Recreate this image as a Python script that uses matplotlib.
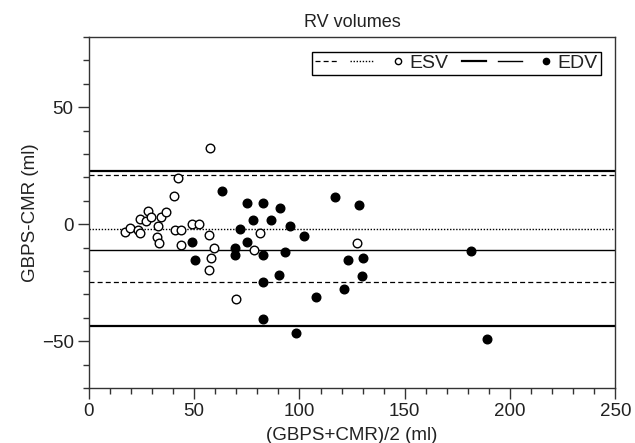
import numpy as np
import matplotlib.pyplot as plt
from matplotlib.lines import Line2D
from matplotlib.legend_handler import HandlerTuple

plt.rcParams['font.family'] = ['Liberation Sans', 'DejaVu Sans']

# ESV: mean (x) vs difference (y)
esv_mean = [17.1, 19.5, 23.2, 24.3, 24.3, 27.0, 28.1, 29.4, 34.3, 36.5, 32.9, 32.2,
            33.2, 40.2, 42.1, 40.8, 43.8, 43.7, 49.2, 52.4, 57.1, 59.5, 58.1, 56.8,
            57.6, 70.0, 81.1, 78.2, 127.1]
esv_diff = [-3.4, -1.8, -2.6, -3.6, 2.4, 1.3, 5.7, 3.3, 3.3, 5.3, -0.6, -5.4,
            -8.1, 12.0, 19.7, -2.3, -2.6, -9.0, 0.3, 0.0, -4.6, -10.0, -14.5, -19.7,
            32.5, -31.9, -3.7, -11.1, -8.1]

# EDV
edv_mean = [63.0, 48.9, 50.5, 71.7, 69.5, 69.5, 74.9, 75.2, 82.7, 77.9, 86.3, 90.6,
            82.7, 82.7, 90.5, 82.7, 93.3, 95.5, 102.0, 107.8, 98.4, 117.0, 128.1,
            122.9, 130.3, 129.7, 121.1, 181.4, 189.0]
edv_diff = [14.2, -7.8, -15.1, -2.0, -10.1, -13.1, -7.7, 9.0, 9.0, 1.7, 1.7, 7.0,
            -13.0, -24.8, -21.9, -40.5, -12.0, -0.9, -5.1, -31.2, -46.6, 11.5, 8.4,
            -15.1, -14.4, -22.2, -27.6, -11.3, -49.0]

# bias and limits of agreement
esv_bias, esv_lo, esv_hi = -2.1, -24.8, 20.9
edv_bias, edv_lo, edv_hi = -11.1, -43.6, 22.6

txt = '#222222'
fig = plt.figure(figsize=(6.35, 4.43), dpi=100)
ax = fig.add_axes([0.140, 0.124, 0.829, 0.7925])

# reference lines
ax.axhline(esv_bias, color='black', lw=1.0, ls=(0, (1, 1.2)))
ax.axhline(esv_hi, color='black', lw=0.9, ls=(0, (4, 2.5)))
ax.axhline(esv_lo, color='black', lw=0.9, ls=(0, (4, 2.5)))
ax.axhline(edv_bias, color='black', lw=1.0, ls='-')
ax.axhline(edv_hi, color='black', lw=1.6, ls='-')
ax.axhline(edv_lo, color='black', lw=1.6, ls='-')

# points
ax.plot(esv_mean, esv_diff, 'o', ms=6.2, mfc='white', mec='black', mew=1.0, zorder=3)
ax.plot(edv_mean, edv_diff, 'o', ms=6.2, mfc='black', mec='black', mew=1.0, zorder=3)

ax.set_xlim(0, 250)
ax.set_ylim(-70, 80)
ax.set_xticks(np.arange(0, 251, 50))
ax.set_xticks(np.arange(0, 251, 10), minor=True)
ax.set_yticks([-50, 0, 50])
ax.set_yticks(np.arange(-70, 81, 10), minor=True)
ax.set_yticklabels(['\u221250', '0', '50'])
ax.tick_params(which='major', direction='out', length=8, width=1, labelsize=13.5,
               pad=3, labelcolor=txt, color='#333333')
ax.tick_params(which='minor', direction='out', length=4, width=1, color='#333333')
for s in ax.spines.values():
    s.set_linewidth(1.0)
    s.set_color('#333333')

ax.set_xlabel('(GBPS+CMR)/2 (ml)', fontsize=13.5, labelpad=5, color=txt)
ax.set_ylabel('GBPS-CMR (ml)', fontsize=13.5, labelpad=2, color=txt)
ax.set_title('RV volumes', fontsize=13, pad=7, color=txt)

# legend
h_dash = Line2D([], [], color='black', lw=0.9, ls=(0, (4, 2.5)))
h_dot = Line2D([], [], color='black', lw=1.0, ls=(0, (1, 1.2)))
h_open = Line2D([], [], ls='none', marker='o', ms=4.5, mfc='white', mec='black', mew=1.0)
h_thick = Line2D([], [], color='black', lw=1.6)
h_thin = Line2D([], [], color='black', lw=1.0)
h_fill = Line2D([], [], ls='none', marker='o', ms=4.5, mfc='black', mec='black')
leg = ax.legend([(h_dash, h_dot, h_open), (h_thick, h_thin, h_fill)], ['ESV', 'EDV'],
                handler_map={tuple: HandlerTuple(ndivide=None, pad=0.6)},
                loc='upper right', ncol=2, fontsize=14, handlelength=4.9,
                handletextpad=0.0, columnspacing=0.7, borderpad=0.15,
                borderaxespad=0.75, fancybox=False, framealpha=1)
leg.get_frame().set_edgecolor('black')
leg.get_frame().set_linewidth(1.0)
for t in leg.get_texts():
    t.set_color(txt)

fig.savefig('out.png', dpi=100)
